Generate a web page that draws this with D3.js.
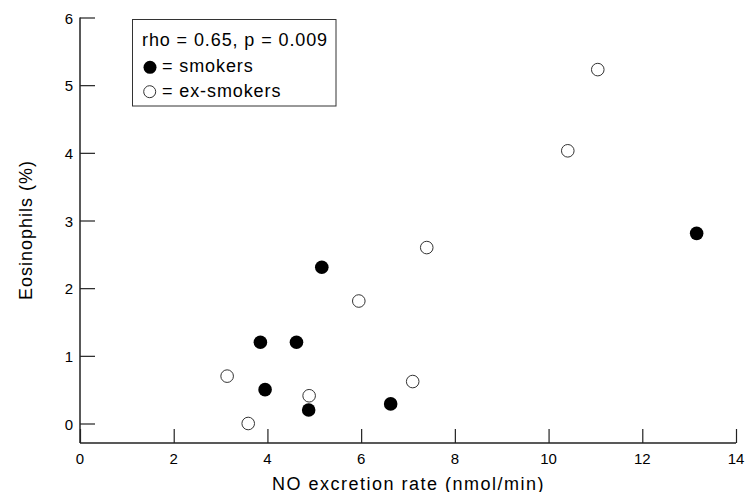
<!DOCTYPE html>
<html>
<head>
<meta charset="utf-8">
<script src="https://cdn.jsdelivr.net/npm/d3@7"></script>
<style>
  body { margin: 0; background: #fff; }
  svg { font-family: "Liberation Sans", Arial, sans-serif; }
</style>
</head>
<body>
<svg width="746" height="492"></svg>
<script>
// smokers (filled)
const smokersX = [3.85, 3.95, 4.62, 4.88, 5.16, 6.63, 13.16]
const smokersY = [1.2, 0.5, 1.2, 0.2, 2.31, 0.29, 2.81]
// ex-smokers (open)
const exSmokersX = [3.14, 3.59, 4.89, 5.95, 7.1, 7.4, 10.41, 11.05]
const exSmokersY = [0.7, 0.0, 0.41, 1.81, 0.62, 2.6, 4.03, 5.23]

const xTicks = [0, 2, 4, 6, 8, 10, 12, 14]
const yTicks = [0, 1, 2, 3, 4, 5, 6]
const legendLines = ["rho = 0.65, p = 0.009", "= smokers", "= ex-smokers"]

let svg = d3.select("svg")

let x = d3.scaleLinear().domain([0, 14]).range([80, 736])
let y = d3.scaleLinear().domain([0, 6]).range([423.5, 17.5])
let axisY = 443

// y axis: ticks point inward
let gy = svg.append("g")
  .attr("transform", "translate(80,0)")
  .call(d3.axisRight(y).tickValues(yTicks).tickSize(15).tickFormat(d3.format("d")))
gy.select(".domain").remove()
gy.selectAll("text").remove()
gy.selectAll("line").attr("stroke", "#222").attr("stroke-width", 1.2)

svg.append("line")
  .attr("x1", 80).attr("x2", 80)
  .attr("y1", y(6)).attr("y2", axisY)
  .attr("stroke", "#222").attr("stroke-width", 1.5)

svg.selectAll(".ylab")
  .data(yTicks)
  .enter()
  .append("text")
  .attr("x", 73)
  .attr("y", d => y(d) + 6)
  .attr("text-anchor", "end")
  .style("font-size", "15px")
  .text(d => d)

// x axis: ticks point up
let gx = svg.append("g")
  .attr("transform", "translate(0," + axisY + ")")
  .call(d3.axisTop(x).tickValues(xTicks).tickSize(14).tickFormat(d3.format("d")))
gx.select(".domain").remove()
gx.selectAll("text").remove()
gx.selectAll("line").attr("stroke", "#222").attr("stroke-width", 1.2)

svg.append("line")
  .attr("x1", 80).attr("x2", x(14))
  .attr("y1", axisY).attr("y2", axisY)
  .attr("stroke", "#222").attr("stroke-width", 1.5)

svg.selectAll(".xlab")
  .data(xTicks)
  .enter()
  .append("text")
  .attr("x", d => x(d))
  .attr("y", 463.5)
  .attr("text-anchor", "middle")
  .style("font-size", "15px")
  .text(d => d)

svg.append("text")
  .attr("x", 408.5)
  .attr("y", 489.5)
  .attr("text-anchor", "middle")
  .style("font-size", "18px")
  .style("letter-spacing", "1.5px")
  .text("NO excretion rate (nmol/min)")

svg.append("text")
  .attr("transform", "translate(31.5,230) rotate(-90)")
  .attr("text-anchor", "middle")
  .style("font-size", "18px")
  .style("letter-spacing", "1px")
  .text("Eosinophils (%)")

// points
let exData = exSmokersX.map((v, i) => ({ x: v, y: exSmokersY[i] }))
let smData = smokersX.map((v, i) => ({ x: v, y: smokersY[i] }))

svg.selectAll(".ex")
  .data(exData)
  .enter()
  .append("circle")
  .attr("cx", d => x(d.x))
  .attr("cy", d => y(d.y))
  .attr("r", 6.3)
  .attr("fill", "#fff")
  .attr("stroke", "#333")
  .attr("stroke-width", 1)

svg.selectAll(".sm")
  .data(smData)
  .enter()
  .append("circle")
  .attr("cx", d => x(d.x))
  .attr("cy", d => y(d.y))
  .attr("r", 6.8)
  .attr("fill", "#000")

// legend
let legend = svg.append("g")
legend.append("rect")
  .attr("x", 132.5).attr("y", 19.5)
  .attr("width", 203.5).attr("height", 86.5)
  .attr("fill", "#fff")
  .attr("stroke", "#333")
  .attr("stroke-width", 1)

legend.append("text")
  .attr("x", 142).attr("y", 45.7)
  .style("font-size", "18px")
  .style("letter-spacing", "0.9px")
  .text(legendLines[0])

legend.append("circle")
  .attr("cx", 150).attr("cy", 67.3)
  .attr("r", 6.5)
  .attr("fill", "#000")
legend.append("text")
  .attr("x", 162).attr("y", 72)
  .style("font-size", "18px")
  .style("letter-spacing", "0.9px")
  .text(legendLines[1])

legend.append("circle")
  .attr("cx", 149.7).attr("cy", 91.7)
  .attr("r", 6)
  .attr("fill", "#fff")
  .attr("stroke", "#333")
  .attr("stroke-width", 1)
legend.append("text")
  .attr("x", 162).attr("y", 96.5)
  .style("font-size", "18px")
  .style("letter-spacing", "0.9px")
  .text(legendLines[2])
</script>
</body>
</html>
